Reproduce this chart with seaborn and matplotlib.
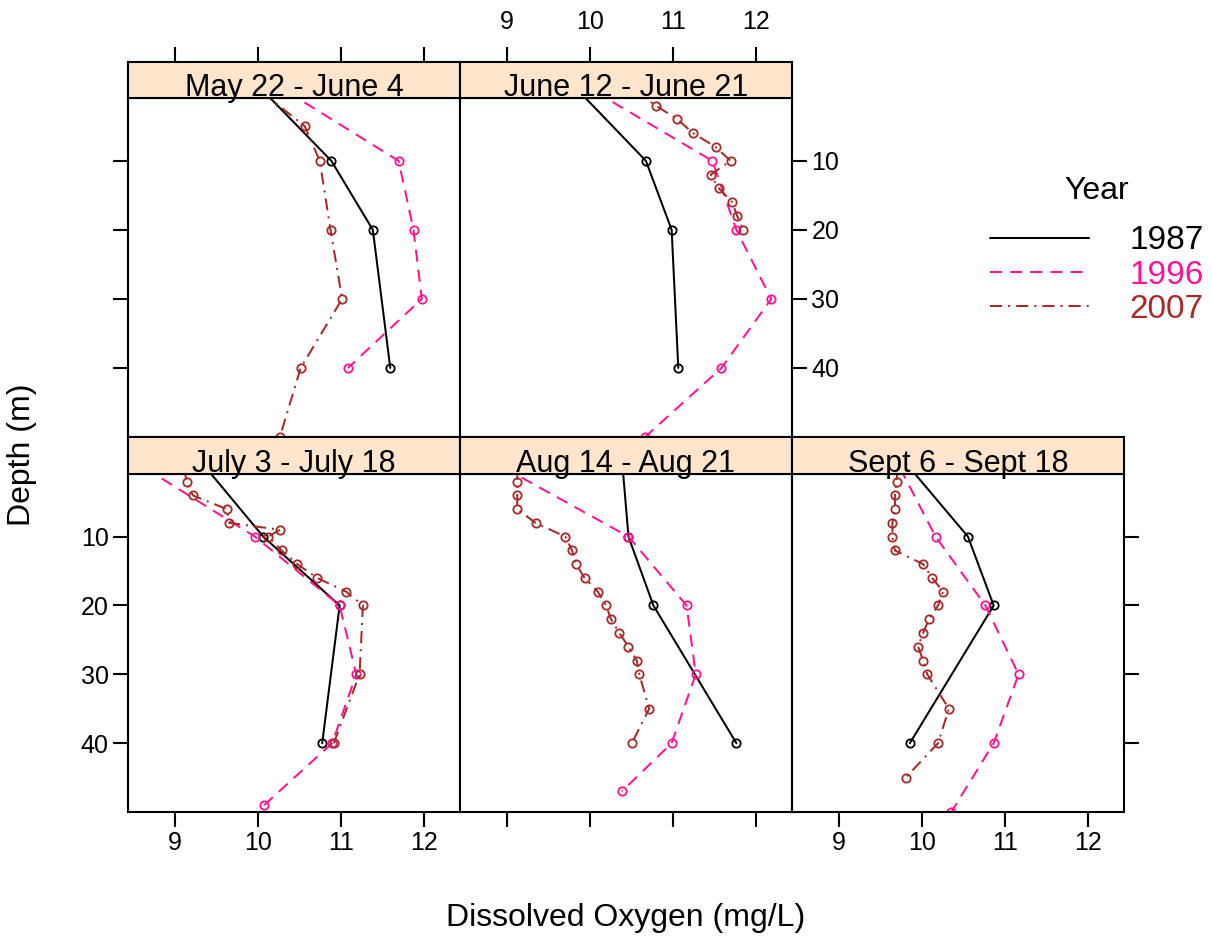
import numpy as np
import pandas as pd
import matplotlib
matplotlib.use("Agg")
import matplotlib.pyplot as plt
from matplotlib.lines import Line2D
import seaborn as sns

# ---------------- data ----------------
panel_titles = ["May 22 - June 4", "June 12 - June 21", "July 3 - July 18",
                "Aug 14 - Aug 21", "Sept 6 - Sept 18"]
years = ["1987", "1996", "2007"]
year_colors = ["black", "#FF1493", "#A52A2A"]
x_ticks = [9, 10, 11, 12]
depth_ticks = [10, 20, 30, 40]

# May 22 - June 4
may_1987_depth = [0, 10, 20, 40]
may_1987_do = [10.07, 10.88, 11.38, 11.59]
may_1996_depth = [0, 10, 20, 30, 40]
may_1996_do = [10.35, 11.69, 11.87, 11.97, 11.08]
may_2007_depth = [0, 5, 10, 20, 30, 40, 50]
may_2007_do = [10.04, 10.56, 10.74, 10.87, 11.01, 10.51, 10.26]

# June 12 - June 21
jun_1987_depth = [0, 10, 20, 40]
jun_1987_do = [9.87, 10.67, 10.98, 11.06]
jun_1996_depth = [0, 10, 20, 30, 40, 50]
jun_1996_do = [10.06, 11.47, 11.76, 12.18, 11.58, 10.66]
jun_2007_depth = [0, 2, 4, 6, 8, 10, 12, 14, 16, 18, 20]
jun_2007_do = [10.55, 10.79, 11.05, 11.24, 11.51, 11.69, 11.45, 11.55, 11.71, 11.77, 11.84]

# July 3 - July 18
jul_1987_depth = [0, 10, 20, 40]
jul_1987_do = [9.37, 10.06, 10.98, 10.77]
jul_1996_depth = [0, 10, 20, 30, 40, 49]
jul_1996_do = [8.63, 9.96, 10.98, 11.18, 10.89, 10.07]
jul_2007_depth = [0, 2, 4, 6, 8, 9, 10, 12, 14, 16, 18, 20, 30, 40]
jul_2007_do = [9.10, 9.14, 9.21, 9.62, 9.65, 10.26, 10.12, 10.28, 10.47, 10.71, 11.06, 11.26, 11.22, 10.91]

# Aug 14 - Aug 21
aug_1987_depth = [0, 10, 20, 40]
aug_1987_do = [10.39, 10.46, 10.76, 11.76]
aug_1996_depth = [0, 10, 20, 30, 40, 47]
aug_1996_do = [8.96, 10.46, 11.16, 11.27, 10.98, 10.38]
aug_2007_depth = [0, 2, 4, 6, 8, 10, 12, 14, 16, 18, 20, 22, 24, 26, 28, 30, 35, 40]
aug_2007_do = [9.12, 9.12, 9.12, 9.12, 9.34, 9.70, 9.78, 9.83, 9.93, 10.09, 10.19, 10.25,
               10.35, 10.46, 10.56, 10.59, 10.71, 10.50]

# Sept 6 - Sept 18
sep_1987_depth = [0, 10, 20, 40]
sep_1987_do = [9.85, 10.55, 10.86, 9.85]
sep_1996_depth = [0, 10, 20, 30, 40, 50]
sep_1996_do = [9.73, 10.16, 10.76, 11.16, 10.86, 10.35]
sep_2007_depth = [0, 2, 4, 6, 8, 10, 12, 14, 16, 18, 20, 22, 24, 26, 28, 30, 35, 40, 45]
sep_2007_do = [9.70, 9.69, 9.67, 9.67, 9.64, 9.64, 9.67, 10.01, 10.12, 10.25, 10.19, 10.08,
               10.01, 9.95, 10.01, 10.06, 10.32, 10.19, 9.80]

series = [
    (panel_titles[0], "1987", may_1987_depth, may_1987_do),
    (panel_titles[0], "1996", may_1996_depth, may_1996_do),
    (panel_titles[0], "2007", may_2007_depth, may_2007_do),
    (panel_titles[1], "1987", jun_1987_depth, jun_1987_do),
    (panel_titles[1], "1996", jun_1996_depth, jun_1996_do),
    (panel_titles[1], "2007", jun_2007_depth, jun_2007_do),
    (panel_titles[2], "1987", jul_1987_depth, jul_1987_do),
    (panel_titles[2], "1996", jul_1996_depth, jul_1996_do),
    (panel_titles[2], "2007", jul_2007_depth, jul_2007_do),
    (panel_titles[3], "1987", aug_1987_depth, aug_1987_do),
    (panel_titles[3], "1996", aug_1996_depth, aug_1996_do),
    (panel_titles[3], "2007", aug_2007_depth, aug_2007_do),
    (panel_titles[4], "1987", sep_1987_depth, sep_1987_do),
    (panel_titles[4], "1996", sep_1996_depth, sep_1996_do),
    (panel_titles[4], "2007", sep_2007_depth, sep_2007_do),
]
rows = []
for title, yr, dep, do in series:
    for d, v in zip(dep, do):
        rows.append({"Panel": title, "Year": yr, "Depth": d, "DO": v})
df = pd.DataFrame(rows)

# ---------------- style ----------------
sns.set_style("white")
plt.rcParams["font.family"] = ["Liberation Sans", "DejaVu Sans"]
plt.rcParams["text.color"] = "black"
plt.rcParams["axes.labelcolor"] = "black"
plt.rcParams["xtick.color"] = "black"
plt.rcParams["ytick.color"] = "black"
plt.rcParams["legend.labelcolor"] = "black"

W, H = 1212, 939
fig = plt.figure(figsize=(W / 100, H / 100), dpi=100)

def rect(x0, y0, x1, y1):
    return [x0 / W, 1 - y1 / H, (x1 - x0) / W, (y1 - y0) / H]

panel_boxes = [(128, 98, 460, 437), (460, 98, 792, 437),
               (128, 474, 460, 812), (460, 474, 792, 812), (792, 474, 1124, 812)]
strip_boxes = [(128, 62, 460, 98), (460, 62, 792, 98),
               (128, 437, 460, 474), (460, 437, 792, 474), (792, 437, 1124, 474)]

palette = dict(zip(years, year_colors))
dashes = {"1987": "", "1996": (6, 4), "2007": (6, 3, 1, 3)}
markers = {"1987": "o", "1996": "o", "2007": "o"}
XLIM = (8.43, 12.43)
YLIM = (50, 0.9)
LW = 1.45
TICKLEN = 11
TICKFS = 18

side_cfg = [
    dict(left=(True, False), right=(False, False), bottom=(False, False)),
    dict(left=(False, False), right=(True, True), bottom=(False, False)),
    dict(left=(True, True), right=(False, False), bottom=(True, True)),
    dict(left=(False, False), right=(False, False), bottom=(True, False)),
    dict(left=(False, False), right=(True, False), bottom=(True, True)),
]
top_cfg = [(True, False), (True, True), (False, False), (False, False), (False, False)]

for i, title in enumerate(panel_titles):
    ax = fig.add_axes(rect(*panel_boxes[i]))
    sub = df[df["Panel"] == title]
    sns.lineplot(data=sub, x="DO", y="Depth", hue="Year", style="Year",
                 hue_order=years, style_order=years, palette=palette,
                 dashes=dashes, markers=markers, sort=False, estimator=None,
                 legend=False, ax=ax, linewidth=LW, markersize=6,
                 markeredgewidth=1.3)
    for ln in ax.lines:
        ln.set_markerfacecolor("none")
        ln.set_markeredgecolor(ln.get_color())
    ax.set_xlim(*XLIM)
    ax.set_ylim(*YLIM)
    ax.set_xticks(x_ticks)
    ax.set_yticks(depth_ticks)
    ax.set_xlabel("")
    ax.set_ylabel("")
    for sp in ax.spines.values():
        sp.set_linewidth(1.5)
        sp.set_color("black")
    cfg = side_cfg[i]
    ax.tick_params(axis="both", direction="out", length=TICKLEN, width=1.5,
                   labelsize=TICKFS, pad=3, colors="black")
    ax.tick_params(axis="y", left=cfg["left"][0], labelleft=cfg["left"][1],
                   right=cfg["right"][0], labelright=cfg["right"][1])
    ax.tick_params(axis="x", bottom=cfg["bottom"][0], labelbottom=cfg["bottom"][1],
                   top=False, labeltop=False)

    sax = fig.add_axes(rect(*strip_boxes[i]))
    sax.set_zorder(3)
    sax.set_facecolor("#FFE5CC")
    sax.set_xlim(*XLIM)
    sax.set_ylim(0, 1)
    sax.set_yticks([])
    sax.set_xticks(x_ticks)
    for sp in sax.spines.values():
        sp.set_linewidth(1.5)
        sp.set_color("black")
    tt, tl = top_cfg[i]
    sax.tick_params(axis="x", direction="out", length=TICKLEN, width=1.5,
                    labelsize=TICKFS, pad=9, colors="black",
                    bottom=False, labelbottom=False, top=tt, labeltop=tl)
    hstrip = strip_boxes[i][3] - strip_boxes[i][1]
    sax.text(0.5, 2.0 / hstrip, title, transform=sax.transAxes, ha="center",
             va="baseline", fontsize=22, clip_on=False, zorder=5, color="black")

fig.text(626 / W, 1 - 918 / H, "Dissolved Oxygen (mg/L)", ha="center", va="center",
         fontsize=23, color="black")
fig.text(22 / W, 1 - 455 / H, "Depth (m)", ha="center", va="center", rotation=90,
         fontsize=23, color="black")

handles = [Line2D([], [], color=c, lw=LW,
                  linestyle=("-" if d == "" else (0, d)))
           for c, d in zip(year_colors, [dashes[y] for y in years])]
leg = fig.legend(handles, years, title="Year", loc="upper left",
                 bbox_to_anchor=(990 / W, 1 - 176 / H), frameon=False, fontsize=24,
                 title_fontsize=23, handlelength=2.97, handletextpad=1.2,
                 labelspacing=0.1, borderpad=0, borderaxespad=0,
                 labelcolor=year_colors)
leg.get_title().set_color("black")
leg._legend_box.sep = 14

fig.savefig("out.png", dpi=100)
